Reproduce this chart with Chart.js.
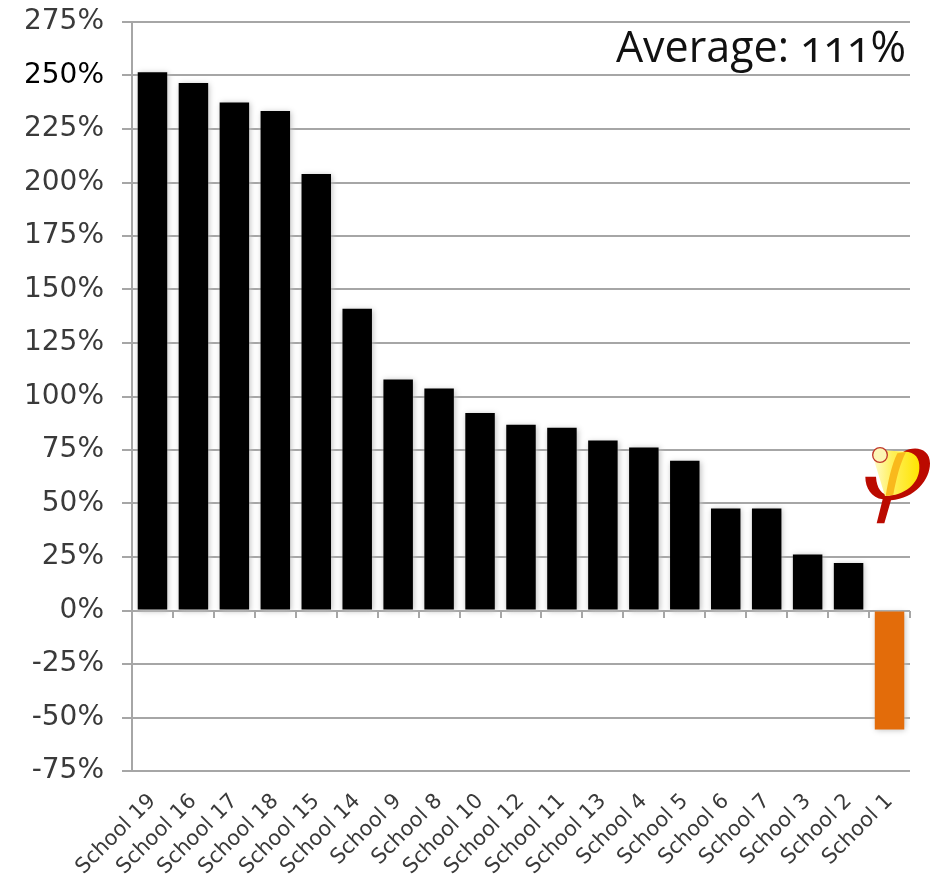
<!DOCTYPE html>
<html>
<head>
<meta charset="utf-8">
<title>School comparison</title>
<script src="https://cdn.jsdelivr.net/npm/chart.js@4"></script>
<style>
  html, body { margin: 0; padding: 0; background: #fff; }
  #wrap { position: relative; width: 938px; height: 879px; overflow: hidden; }
  #average {
    position: absolute; right: 32px; top: 16px;
    font: 43px "Open Sans", sans-serif;
    font-feature-settings: "onum";
    color: #111;
    white-space: nowrap;
  }
  #logo { position: absolute; left: 840px; top: 430px; width: 98px; height: 110px; }
</style>
</head>
<body>
<div id="wrap">
  <canvas id="chart" width="938" height="879"></canvas>
  <div id="average">Average: 111%</div>
  <svg id="logo" viewBox="0 0 294 330">
    <defs>
      <linearGradient id="glow" x1="0" y1="0" x2="1" y2="0">
        <stop offset="0" stop-color="#fffbc8"/>
        <stop offset="0.4" stop-color="#fff05a"/>
        <stop offset="1" stop-color="#ffe400"/>
      </linearGradient>
    </defs>
    <path fill="#bb0a00" d="M76 140 L108 140 C110 175 125 195 150 196 L190 65 C225 45 270 55 270 100 C270 150 225 205 153 211 L133 280 L110 280 L128 208 C95 203 76 175 76 140 Z"/>
    <path fill="url(#glow)" d="M102 90 L120 60 L195 65 C225 65 240 85 238 115 C237 160 195 198 135 198 Z"/>
    <path fill="#f9b91c" d="M172 70 L198 66 C180 100 168 150 160 194 L137 198 C145 150 155 105 172 70 Z"/>
    <circle cx="120" cy="75" r="22" fill="#fdf6b4" stroke="#c0392b" stroke-width="4"/>
  </svg>
</div>
<script>
const categories = ["School 19", "School 16", "School 17", "School 18", "School 15", "School 14", "School 9",
  "School 8", "School 10", "School 12", "School 11", "School 13", "School 4", "School 5", "School 6",
  "School 7", "School 3", "School 2", "School 1"];
const attainment = [251.5, 246.5, 237.4, 233.4, 204, 141, 108, 103.7, 92.3, 86.8, 85.4, 79.4, 76.2, 70, 47.7, 47.7, 26.2, 22.2, -55.6];

const gridGrey = "#a6a6a6";
const textGrey = "#3a3a3a";

// pale halo round the bars, it also breaks the gridlines next to them
const barShadow = {
  id: "barShadow",
  beforeDatasetsDraw(chart) {
    const ctx = chart.ctx;
    ctx.save();
    ctx.shadowColor = "rgb(190, 190, 190)";
    ctx.shadowBlur = 6;
    ctx.shadowOffsetX = 1;
    ctx.shadowOffsetY = 1;
  },
  afterDatasetsDraw(chart) {
    chart.ctx.restore();
  }
};

new Chart(document.getElementById("chart").getContext("2d"), {
  type: "bar",
  data: {
    labels: categories,
    datasets: [{
      data: attainment,
      backgroundColor: c => (c.raw < 0 ? "#e36c0a" : "#000000"),
      borderWidth: 0, // a border would clip the shadow to the bar
      categoryPercentage: 1,
      barPercentage: 0.72
    }]
  },
  options: {
    responsive: false,
    animation: false,
    layout: { padding: { top: 0, right: 28, left: 0, bottom: 0 } },
    plugins: {
      legend: { display: false },
      title: { display: false },
      tooltip: { enabled: false }
    },
    scales: {
      x: {
        offset: true,
        grid: { display: false },
        border: { display: false },
        ticks: {
          autoSkip: false,
          minRotation: 45,
          maxRotation: 45,
          padding: 10,
          color: textGrey,
          font: { family: "DejaVu Sans", size: 21 }
        },
        afterFit(scale) { scale.height = 108; }
      },
      // tick marks along the zero line
      zeroAxis: {
        type: "category",
        axis: "x",
        position: { y: 0 },
        offset: true,
        grid: { offset: true, drawOnChartArea: false, drawTicks: true, tickLength: 7, color: gridGrey, lineWidth: 2 },
        border: { display: false },
        ticks: { display: false }
      },
      y: {
        min: -75,
        max: 275,
        grid: { color: gridGrey, lineWidth: 2, tickLength: 10 },
        border: { color: gridGrey, width: 2 },
        ticks: {
          stepSize: 25,
          padding: 18,
          color: c => (c.tick.value === 250 ? "#000000" : textGrey),
          font: { family: "DejaVu Sans", size: 28 },
          callback: v => v + "%"
        },
        afterFit(scale) {
          scale.width = 132;
          scale.paddingTop = 22; // tick padding would otherwise push the plot down
        }
      }
    }
  },
  plugins: [barShadow]
});
</script>
</body>
</html>
